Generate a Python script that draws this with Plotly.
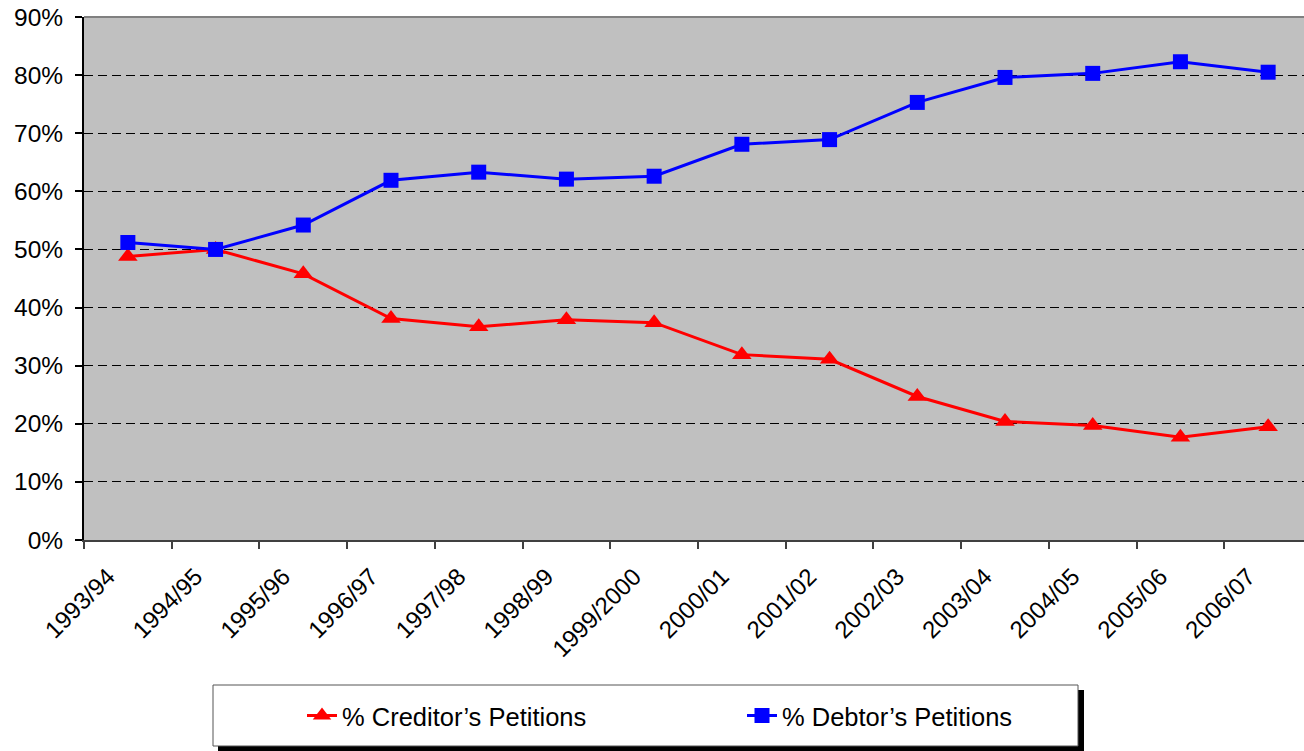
import plotly.graph_objects as go

years = ["1993/94", "1994/95", "1995/96", "1996/97", "1997/98", "1998/99", "1999/2000",
         "2000/01", "2001/02", "2002/03", "2003/04", "2004/05", "2005/06", "2006/07"]
creditor = [48.8, 50.0, 45.8, 38.1, 36.7, 37.9, 37.4, 31.9, 31.1, 24.7, 20.4, 19.7, 17.7, 19.5]
debtor = [51.2, 50.0, 54.2, 61.9, 63.3, 62.1, 62.6, 68.1, 68.9, 75.3, 79.6, 80.3, 82.3, 80.5]
y_ticks = [0, 10, 20, 30, 40, 50, 60, 70, 80, 90]

FONT = "Liberation Sans, Arial, sans-serif"

fig = go.Figure()
fig.add_trace(go.Scatter(
    x=years, y=creditor, mode="lines+markers", name="% Creditor\u2019s Petitions",
    line=dict(color="#FF0000", width=3),
    marker=dict(symbol="triangle-up", size=17, color="#FF0000"),
    legend="legend",
))
fig.add_trace(go.Scatter(
    x=years, y=debtor, mode="lines+markers", name="% Debtor\u2019s Petitions",
    line=dict(color="#0000FF", width=3),
    marker=dict(symbol="square", size=15, color="#0000FF"),
    legend="legend2",
))

# helpers converting reference screen pixels into paper coordinates
def px_x(p):
    return (p - 84) / 1220.0

def px_y(p):
    return (540 - p) / 523.0

shapes = [
    dict(type="rect", xref="paper", yref="paper",
         x0=px_x(218), x1=px_x(1084), y0=px_y(690), y1=px_y(752),
         fillcolor="black", line=dict(width=0), layer="above"),
    dict(type="rect", xref="paper", yref="paper",
         x0=px_x(213), x1=px_x(1078), y0=px_y(685), y1=px_y(746),
         fillcolor="white", line=dict(color="#555555", width=1), layer="above"),
    dict(type="line", xref="paper", yref="paper", x0=0, x1=1, y0=1, y1=1,
         line=dict(color="#808080", width=2), layer="above"),
]

fig.update_layout(
    width=1304, height=751,
    margin=dict(l=84, r=0, t=17, b=211),
    paper_bgcolor="white",
    plot_bgcolor="#C0C0C0",
    font=dict(family=FONT, size=24, color="black"),
    showlegend=True,
    shapes=shapes,
    legend=dict(x=px_x(302), y=px_y(716), xanchor="left", yanchor="middle",
                bgcolor="rgba(0,0,0,0)", borderwidth=0,
                font=dict(family=FONT, size=25.5, color="black")),
    legend2=dict(x=px_x(742), y=px_y(716), xanchor="left", yanchor="middle",
                 bgcolor="rgba(0,0,0,0)", borderwidth=0,
                 font=dict(family=FONT, size=25.5, color="black")),
    xaxis=dict(
        type="category", categoryorder="array", categoryarray=years,
        range=[-0.5, 13.5 - 8 / 87.7],
        tickangle=-45, tickson="boundaries", ticks="outside", ticklen=7,
        tickcolor="#404040", tickwidth=1.5,
        showline=True, linecolor="#404040", linewidth=2,
        showgrid=False, zeroline=False,
        ticklabelshift=-20, ticklabelstandoff=11,
        tickfont=dict(family=FONT, size=24, color="black"),
    ),
    yaxis=dict(
        range=[0, 90], tickvals=y_ticks, ticktext=[f"{v}%" for v in y_ticks],
        ticks="outside", ticklen=7, tickcolor="black", tickwidth=1.5,
        showline=True, linecolor="black", linewidth=2,
        showgrid=True, gridcolor="black", gridwidth=1, griddash="9px,5px",
        zeroline=False, ticklabelstandoff=7,
        tickfont=dict(family=FONT, size=24.5, color="black"),
    ),
)

fig.write_html(
    "out.html",
    config={"displayModeBar": False},
    post_script="document.body.style.margin='0';document.body.style.overflow='hidden';",
)
